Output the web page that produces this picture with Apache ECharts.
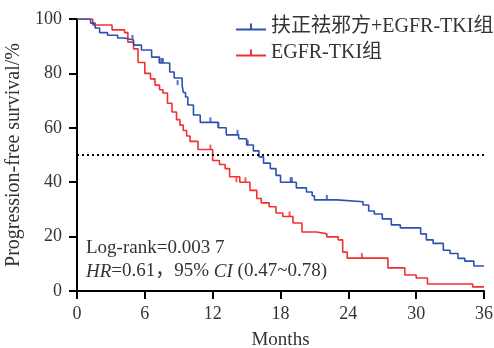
<!DOCTYPE html>
<html>
<head>
<meta charset="utf-8">
<script src="https://cdn.jsdelivr.net/npm/echarts@6/dist/echarts.min.js"></script>
<style>
  html, body { margin: 0; padding: 0; background: #fff; }
  #chart { width: 494px; height: 348px; }
</style>
</head>
<body>
<div id="chart"></div>
<script>
// group names
var groupNames = ['扶正祛邪方+EGFR-TKI组', 'EGFR-TKI组'];

// x ticks (months) and y ticks (%)
var xTicks = [0, 6, 12, 18, 24, 30, 36];
var yTicks = [0, 20, 40, 60, 80, 100];

// combined group: time of each drop and survival after it
var comboTime = [0, 1.2, 1.6, 2.0, 2.7, 3.6, 4.2, 5.0, 5.7, 6.6, 7.3, 8.2, 8.6, 9.3, 9.4, 9.6, 9.8, 10.3, 10.9,
  12.5, 13.2, 14.3, 15.0, 15.6, 16.1, 16.5, 17.1, 17.6, 18.0, 19.4, 20.3, 20.8, 21.0, 23.0,
  25.3, 25.8, 26.3, 27.0, 27.8, 28.6, 30.4, 30.9, 31.5, 32.4, 33.0, 33.7, 34.3, 35.1, 36];
var comboSurv = [100, 98.5, 96.7, 95, 94, 93, 92.3, 90.4, 88.6, 86, 83.8, 80.5, 78.3, 75.7, 73, 71.3, 68.4, 64.7, 62,
  60, 57.4, 56, 53.7, 51.5, 49.3, 47, 45, 42.5, 40, 37.9, 36.4, 35, 33.5, 32.8,
  31.6, 29.4, 28.3, 26.5, 24.3, 23.2, 21.0, 18.8, 17.5, 15.0, 13.8, 12.0, 11.0, 9.2, 9.2];
var comboCensorTime = [4.9, 7.3, 7.5, 7.6, 8.9, 11.8, 12.5, 14.2, 15.1, 18.9, 19.0, 22.1];
var comboCensorSurv = [92.3, 83.8, 83.8, 83.8, 75.7, 62, 60, 57.4, 53.7, 40, 40, 33.5];

// EGFR-TKI group
var tkiTime = [0, 1.4, 3.1, 4.2, 4.5, 5.0, 5.4, 6.0, 6.5, 6.9, 7.3, 7.6, 8.0, 8.4, 8.8, 9.1, 9.4, 9.7, 10.0, 10.7,
  12.0, 12.6, 13.1, 13.5, 14.4, 15.3, 15.9, 16.3, 17.0, 17.6, 18.2, 19.1, 19.9, 21.2, 22.1, 23.1, 23.5, 23.9,
  27.5, 29.0, 30.0, 31.0, 35.0, 36];
var tkiSurv = [100, 97.8, 96, 95, 91.5, 89, 84, 80, 78, 75.7, 74, 72.8, 69, 65.8, 63, 61, 59, 57, 55, 52,
  48, 46.5, 45, 42, 40, 37, 34, 32.4, 31, 28.7, 27.4, 25, 21.7, 21, 19.9, 18.8, 14.3, 12.1,
  8.5, 5.9, 4.8, 2.6, 1.5, 1.5];
var tkiCensorTime = [11.8, 14.1, 14.9, 18.8, 25.2];
var tkiCensorSurv = [52, 40, 40, 27.4, 12.1];

var refLine = 50;

var BLUE = '#2d51b3';
var RED = '#f23030';
var FONT = "'Liberation Serif', 'Noto Sans CJK SC', serif";

function pairs(xs, ys) {
  return xs.map(function (x, i) { return [x, ys[i]]; });
}

var chart = echarts.init(document.getElementById('chart'), null, { renderer: 'canvas' });

var legendIcon = 'path://M0,5h30v2h-30z M14,0h2v5h-2z';

var option = {
  animation: false,
  backgroundColor: '#fff',
  grid: { left: 77, right: 10, top: 19, bottom: 57, containLabel: false, outerBoundsMode: 'none' },
  legend: {
    orient: 'vertical',
    left: 231,
    top: 12,
    itemWidth: 30,
    itemHeight: 7,
    itemGap: 6,
    data: [
      { name: groupNames[0], icon: legendIcon },
      { name: groupNames[1], icon: legendIcon }
    ],
    textStyle: { fontFamily: FONT, fontSize: 20, color: '#333' }
  },
  xAxis: {
    type: 'value',
    min: 0, max: 36, interval: 6,
    name: 'Months',
    nameLocation: 'middle',
    nameGap: 40,
    nameTextStyle: { fontFamily: FONT, fontSize: 19, color: '#333' },
    axisLine: { show: true, onZero: false, lineStyle: { color: '#000', width: 2 } },
    axisTick: { show: true, length: 8, lineStyle: { color: '#000', width: 2 } },
    axisLabel: { fontFamily: FONT, fontSize: 18, color: '#333', margin: 14,
      formatter: function (v) { return xTicks.indexOf(v) >= 0 ? String(v) : ''; } },
    splitLine: { show: false }
  },
  yAxis: {
    type: 'value',
    min: 0, max: 100, interval: 20,
    name: 'Progression-free survival/%',
    nameLocation: 'middle',
    nameGap: 47,
    nameTextStyle: { fontFamily: FONT, fontSize: 20, color: '#333' },
    axisLine: { show: true, lineStyle: { color: '#000', width: 2 } },
    axisTick: { show: true, length: 8, lineStyle: { color: '#000', width: 2 } },
    axisLabel: { fontFamily: FONT, fontSize: 18, color: '#333', margin: 15,
      formatter: function (v) { return yTicks.indexOf(v) >= 0 ? String(v) : ''; } },
    splitLine: { show: false }
  },
  series: [
    {
      name: groupNames[0],
      type: 'line',
      step: 'end',
      data: pairs(comboTime, comboSurv),
      showSymbol: false,
      color: BLUE,
      lineStyle: { color: BLUE, width: 1.6 },
      z: 3,
      markLine: {
        silent: true,
        symbol: 'none',
        label: { show: false },
        lineStyle: { color: '#000', width: 2, type: [2, 3] },
        data: [{ yAxis: refLine }]
      }
    },
    {
      name: groupNames[1],
      type: 'line',
      step: 'end',
      data: pairs(tkiTime, tkiSurv),
      showSymbol: false,
      color: RED,
      lineStyle: { color: RED, width: 1.6 },
      z: 2
    },
    {
      name: 'combo-censor',
      type: 'scatter',
      data: pairs(comboCensorTime, comboCensorSurv),
      symbol: 'rect',
      symbolSize: [2, 5],
      symbolOffset: [0, -2.5],
      itemStyle: { color: BLUE },
      z: 4
    },
    {
      name: 'tki-censor',
      type: 'scatter',
      data: pairs(tkiCensorTime, tkiCensorSurv),
      symbol: 'rect',
      symbolSize: [2, 5],
      symbolOffset: [0, -2.5],
      itemStyle: { color: RED },
      z: 4
    }
  ],
  graphic: [
    {
      type: 'text',
      left: 86,
      top: 239,
      style: { text: 'Log-rank=0.003 7', font: '19px ' + FONT, fill: '#333' }
    },
    {
      type: 'text',
      left: 86,
      top: 262,
      style: {
        text: '{i|HR}=0.61，95% {i|CI} (0.47~0.78)',
        font: '19px ' + FONT,
        fill: '#333',
        rich: { i: { fontStyle: 'italic', fontFamily: FONT, fontSize: 19, fill: '#333' } }
      }
    }
  ]
};

chart.setOption(option);
</script>
</body>
</html>
